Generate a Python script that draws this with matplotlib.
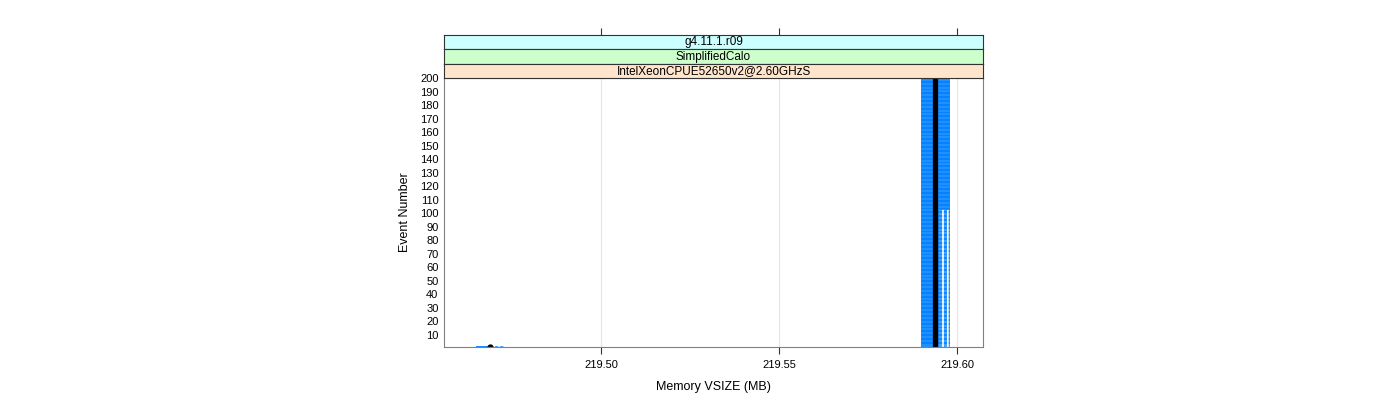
import numpy as np
import matplotlib.pyplot as plt

plt.rcParams['font.family'] = ['Liberation Sans', 'DejaVu Sans']

# strip labels (top to bottom)
strips = ['g4.11.1.r09', 'SimplifiedCalo', 'IntelXeonCPUE52650v2@2.60GHzS']
strip_colors = ['#ccffff', '#ccffcc', '#ffe5cc']

# event ranges and memory segments (MB)
solid_first = [2, 103]
solid_last = [200, 200]
solid_lo = [219.5899, 219.5949]
solid_hi = [219.5949, 219.5980]

dotted_first = [2]
dotted_last = [102]
dotted_lo = [219.5949]
dotted_hi = [219.5980]

# first event sits much lower
first_event = 1
first_lo = 219.4649
first_mid = 219.4688
first_hi = 219.4728

median_mem = 219.5937

xticks = [219.50, 219.55, 219.60]
xticklabels = ['219.50', '219.55', '219.60']
yticks = list(range(10, 201, 10))

blue = '#0080ff'

fig = plt.figure(figsize=(14, 4), dpi=100)
ax = fig.add_axes([444/1400, 1-347/400, 539/1400, 269/400])

for a, b, lo, hi in zip(solid_first, solid_last, solid_lo, solid_hi):
    ev = np.arange(a, b + 1)
    ax.hlines(ev, lo, hi, colors=blue, lw=1.25)
for a, b, lo, hi in zip(dotted_first, dotted_last, dotted_lo, dotted_hi):
    ev = np.arange(a, b + 1)
    ax.hlines(ev, lo, hi, colors=blue, lw=1.25, alpha=0.85,
              linestyles=[(0, (1.8, 1.0))])

ax.hlines(first_event, first_lo, first_mid, colors=blue, lw=1.3)
ax.hlines(first_event, first_mid, first_hi, colors=blue, lw=1.3,
          alpha=0.8, linestyles=[(0, (1.8, 1.0))])
ax.plot([first_mid], [first_event], 'o', color='black', ms=3.5)

ax.axvline(median_mem, color='black', lw=3.8)

for x in xticks:
    ax.axvline(x, color='#e6e6e6', lw=0.8, zorder=0)

ax.set_xlim(219.4559, 219.6073)
ax.set_ylim(1.1, 200)
ax.set_xticks(xticks)
ax.set_xticklabels(xticklabels, fontsize=8)
ax.set_yticks(yticks)
ax.set_yticklabels([str(v) for v in yticks], fontsize=8)
ax.tick_params(axis='y', length=0, pad=4)
ax.tick_params(axis='x', length=5, color='#333333', pad=4)
for s in ax.spines.values():
    s.set_color('#808080')
ax.set_xlabel('Memory VSIZE (MB)', fontsize=9, labelpad=8)
ax.set_ylabel('Event Number', fontsize=9, labelpad=6)

# strips
h = 14.3 / 400
for i, (lab, col) in enumerate(zip(strips, strip_colors)):
    y0 = 1 - 78/400 + (len(strips) - 1 - i) * h
    sax = fig.add_axes([444/1400, y0, 539/1400, h])
    sax.set_facecolor(col)
    sax.set_xlim(ax.get_xlim())
    sax.set_xticks([])
    sax.set_yticks([])
    for s in sax.spines.values():
        s.set_color('#333333')
        s.set_linewidth(0.8)
    sax.text(0.5, 0.5, lab, ha='center', va='center', fontsize=8.5,
             transform=sax.transAxes)
    if i == 0:
        sax.set_xticks(xticks)
        sax.xaxis.tick_top()
        sax.tick_params(axis='x', length=5, color='#333333', labeltop=False)

fig.savefig('out.png')
